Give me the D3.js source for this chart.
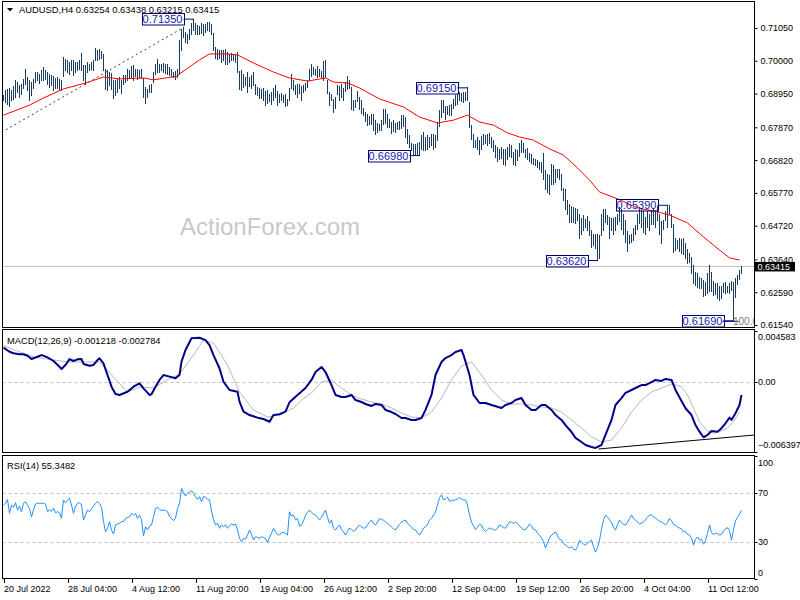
<!DOCTYPE html>
<html><head><meta charset="utf-8">
<script src="https://cdn.jsdelivr.net/npm/d3@7"></script>
<style>body{margin:0;background:#fff}svg{display:block}text{font-family:"Liberation Sans",Arial,sans-serif}</style>
</head><body><svg id="c" width="800" height="600"></svg>
<script>
const headerText = "AUDUSD,H4 0.63254 0.63438 0.63215 0.63415";
const lastClose = 0.63415;
const highs = [
0.6890,0.6906,0.6911,0.6914,0.6908,0.6919,0.6938,0.6933,0.6922,0.6927,
0.6943,0.6975,0.6949,0.6938,0.6933,0.6943,0.6965,0.6965,0.6959,0.6970,
0.6981,0.6970,0.6965,0.6959,0.6954,0.6951,0.6946,0.6949,0.6943,0.6940,
0.7013,0.7007,0.7002,0.6997,0.7004,0.7002,0.6997,0.6997,0.7002,0.7025,
0.6986,0.6986,0.6997,0.6991,0.6997,0.7004,0.7042,0.7034,0.7039,0.7032,
0.7023,0.6975,0.6970,0.6965,0.6961,0.6938,0.6938,0.6943,0.6949,0.6938,
0.6954,0.6954,0.6975,0.6970,0.6983,0.6986,0.6975,0.6975,0.6970,0.6975,
0.6946,0.6917,0.6911,0.6922,0.6927,0.6965,0.6991,0.7007,0.6991,0.6991,
0.6993,0.6991,0.6989,0.6981,0.6975,0.6965,0.6968,0.6975,0.7066,0.7103,
0.7109,0.7093,0.7087,0.7103,0.7121,0.7135,0.7121,0.7114,0.7111,0.7121,
0.7119,0.7117,0.7125,0.7124,0.7117,0.7089,0.7045,0.7039,0.7034,0.7036,
0.7034,0.7039,0.7029,0.7023,0.7025,0.7023,0.7023,0.7029,0.6968,0.6970,
0.6959,0.6949,0.6965,0.6949,0.6954,0.6965,0.6927,0.6917,0.6914,0.6911,
0.6914,0.6904,0.6906,0.6895,0.6901,0.6914,0.6922,0.6904,0.6893,0.6897,
0.6890,0.6895,0.6879,0.6914,0.6959,0.6938,0.6922,0.6925,0.6927,0.6919,
0.6922,0.6929,0.6940,0.6975,0.6989,0.6981,0.6975,0.6983,0.6975,0.6968,
0.7000,0.7004,0.6940,0.6901,0.6895,0.6879,0.6885,0.6922,0.6919,0.6927,
0.6914,0.6933,0.6951,0.6938,0.6917,0.6874,0.6876,0.6904,0.6885,0.6874,
0.6850,0.6837,0.6831,0.6823,0.6831,0.6829,0.6810,0.6801,0.6797,0.6810,
0.6847,0.6847,0.6831,0.6815,0.6805,0.6810,0.6801,0.6805,0.6808,0.6826,
0.6826,0.6821,0.6783,0.6762,0.6737,0.6733,0.6735,0.6737,0.6739,0.6762,
0.6773,0.6757,0.6762,0.6757,0.6767,0.6767,0.6762,0.6805,0.6842,0.6874,
0.6874,0.6855,0.6855,0.6858,0.6861,0.6879,0.6890,0.6895,0.6901,0.6897,
0.6901,0.6901,0.6915,0.6869,0.6794,0.6767,0.6748,0.6757,0.6746,0.6759,
0.6765,0.6762,0.6767,0.6769,0.6757,0.6748,0.6730,0.6725,0.6719,0.6725,
0.6716,0.6719,0.6725,0.6732,0.6730,0.6709,0.6719,0.6714,0.6737,0.6746,
0.6737,0.6719,0.6722,0.6705,0.6700,0.6690,0.6684,0.6682,0.6676,0.6676,
0.6705,0.6650,0.6639,0.6634,0.6669,0.6666,0.6655,0.6652,0.6654,0.6639,
0.6594,0.6588,0.6554,0.6541,0.6535,0.6533,0.6530,0.6524,0.6511,0.6498,
0.6506,0.6495,0.6503,0.6488,0.6458,0.6447,0.6447,0.6445,0.6442,0.6511,
0.6527,0.6527,0.6506,0.6501,0.6498,0.6498,0.6501,0.6511,0.6533,0.6527,
0.6511,0.6490,0.6456,0.6442,0.6447,0.6466,0.6474,0.6511,0.6527,0.6524,
0.6520,0.6501,0.6520,0.6511,0.6522,0.6530,0.6522,0.6535,0.6511,0.6488,
0.6490,0.6520,0.6539,0.6537,0.6511,0.6479,0.6434,0.6426,0.6431,0.6428,
0.6431,0.6415,0.6396,0.6385,0.6372,0.6346,0.6324,0.6319,0.6308,0.6306,
0.6298,0.6292,0.6319,0.6346,0.6324,0.6296,0.6287,0.6289,0.6279,0.6279,
0.6289,0.6292,0.6279,0.6289,0.6296,0.6292,0.6306,0.6314,0.6330,0.6344];
const lows = [
0.6874,0.6869,0.6863,0.6855,0.6874,0.6879,0.6885,0.6901,0.6885,0.6895,
0.6914,0.6927,0.6906,0.6876,0.6890,0.6914,0.6933,0.6938,0.6929,0.6938,
0.6938,0.6943,0.6927,0.6917,0.6922,0.6908,0.6914,0.6914,0.6906,0.6906,
0.6951,0.6972,0.6965,0.6959,0.6970,0.6954,0.6965,0.6970,0.6975,0.6970,
0.6938,0.6927,0.6965,0.6970,0.6975,0.6972,0.7002,0.7004,0.7007,0.7010,
0.6970,0.6911,0.6908,0.6922,0.6911,0.6882,0.6892,0.6901,0.6914,0.6897,
0.6927,0.6933,0.6938,0.6949,0.6949,0.6938,0.6951,0.6943,0.6949,0.6946,
0.6885,0.6865,0.6885,0.6901,0.6901,0.6933,0.6959,0.6965,0.6965,0.6970,
0.6965,0.6961,0.6959,0.6954,0.6951,0.6949,0.6943,0.6949,0.6959,0.7034,
0.7077,0.7061,0.7057,0.7071,0.7087,0.7098,0.7087,0.7087,0.7085,0.7089,
0.7082,0.7092,0.7098,0.7096,0.7085,0.7034,0.7010,0.7007,0.7010,0.6997,
0.7002,0.6989,0.6991,0.6997,0.7004,0.7002,0.6997,0.6965,0.6911,0.6908,
0.6917,0.6922,0.6901,0.6919,0.6914,0.6922,0.6895,0.6890,0.6882,0.6882,
0.6874,0.6858,0.6865,0.6872,0.6863,0.6874,0.6885,0.6858,0.6867,0.6874,
0.6869,0.6855,0.6858,0.6874,0.6914,0.6908,0.6895,0.6885,0.6897,0.6876,
0.6901,0.6906,0.6917,0.6938,0.6951,0.6957,0.6954,0.6949,0.6951,0.6946,
0.6938,0.6949,0.6897,0.6858,0.6874,0.6837,0.6850,0.6893,0.6874,0.6885,
0.6874,0.6904,0.6911,0.6914,0.6847,0.6842,0.6853,0.6872,0.6847,0.6833,
0.6826,0.6808,0.6794,0.6797,0.6797,0.6778,0.6767,0.6773,0.6778,0.6778,
0.6799,0.6801,0.6789,0.6789,0.6769,0.6776,0.6773,0.6783,0.6783,0.6786,
0.6791,0.6757,0.6737,0.6725,0.6714,0.6698,0.6701,0.6703,0.6698,0.6719,
0.6714,0.6714,0.6719,0.6725,0.6730,0.6716,0.6725,0.6748,0.6791,0.6821,
0.6837,0.6815,0.6831,0.6826,0.6826,0.6850,0.6858,0.6863,0.6874,0.6872,
0.6869,0.6876,0.6874,0.6789,0.6751,0.6725,0.6725,0.6716,0.6703,0.6719,
0.6735,0.6737,0.6730,0.6737,0.6725,0.6712,0.6693,0.6680,0.6687,0.6690,
0.6671,0.6666,0.6684,0.6695,0.6693,0.6671,0.6666,0.6682,0.6695,0.6709,
0.6709,0.6693,0.6686,0.6680,0.6674,0.6671,0.6666,0.6661,0.6655,0.6644,
0.6623,0.6591,0.6580,0.6573,0.6607,0.6607,0.6613,0.6628,0.6623,0.6586,
0.6554,0.6527,0.6509,0.6484,0.6483,0.6484,0.6481,0.6490,0.6434,0.6445,
0.6458,0.6468,0.6458,0.6442,0.6404,0.6410,0.6399,0.6362,0.6367,0.6442,
0.6458,0.6484,0.6477,0.6434,0.6458,0.6447,0.6458,0.6479,0.6488,0.6460,
0.6447,0.6420,0.6392,0.6415,0.6419,0.6426,0.6447,0.6463,0.6481,0.6468,
0.6452,0.6447,0.6468,0.6458,0.6477,0.6479,0.6468,0.6490,0.6447,0.6415,
0.6460,0.6490,0.6468,0.6509,0.6468,0.6388,0.6394,0.6402,0.6392,0.6385,
0.6381,0.6367,0.6351,0.6356,0.6319,0.6287,0.6282,0.6276,0.6274,0.6271,
0.6246,0.6250,0.6257,0.6264,0.6264,0.6250,0.6253,0.6239,0.6234,0.6242,
0.6260,0.6255,0.6259,0.6255,0.6266,0.6169,0.6244,0.6285,0.6300,0.6322];
const maBar = [0,13,20,30,41,50,58,70,75,87,88,98,103,112,117,125,135,143,152,161,165,172,178,188,200,208,217,225,232,238,245,252,258,265,273,280,287,293,298,307,317,327,333,342,350,358,363,368];
const maVal = [0.6826,0.6858,0.6881,0.6910,0.6929,0.6948,0.6942,0.6945,0.6939,0.6951,0.6958,0.7003,0.7022,0.7022,0.7019,0.6993,0.6964,0.6945,0.6935,0.6945,0.6932,0.6929,0.6913,0.6878,0.6852,0.6820,0.6801,0.6810,0.6826,0.6804,0.6794,0.6769,0.6756,0.6746,0.6718,0.6698,0.6657,0.6618,0.6580,0.6558,0.6529,0.6516,0.6506,0.6481,0.6436,0.6394,0.6369,0.6362];
const macdBar = [0,3,5,8,10,12,14,17,19,22,25,28,29,31,33,35,37,39,40,43,45,47,48,50,52,54,56,58,62,65,68,70,73,74,76,78,80,83,86,88,89,91,94,98,101,103,105,108,110,113,117,118,120,123,127,130,133,135,138,141,143,146,148,151,154,156,159,161,164,166,169,171,174,176,179,181,184,186,189,191,194,196,199,201,204,206,209,211,214,216,219,221,224,226,229,230,233,235,238,241,244,249,251,254,256,259,261,264,266,269,271,274,276,279,281,284,286,289,291,294,296,299,301,304,306,309,311,314,316,319,321,324,326,329,331,334,336,339,341,344,346,348,350,352,354,357,359,361,363,364,366,368,369];
const macdVal = [0.00307,0.00270,0.00256,0.00247,0.00247,0.00234,0.00204,0.00225,0.00240,0.00219,0.00186,0.00134,0.00113,0.00150,0.00204,0.00186,0.00201,0.00204,0.00159,0.00143,0.00150,0.00195,0.00210,0.00165,0.00059,-0.00047,-0.00113,-0.00122,-0.00093,-0.00047,-0.00016,-0.00062,-0.00122,-0.00116,-0.00047,0.00014,0.00059,0.00044,0.00029,0.00059,0.00180,0.00286,0.00392,0.00397,0.00376,0.00331,0.00240,0.00120,-0.00002,-0.00077,-0.00093,-0.00183,-0.00274,-0.00304,-0.00328,-0.00340,-0.00365,-0.00304,-0.00297,-0.00274,-0.00189,-0.00138,-0.00107,-0.00059,0.00014,0.00086,0.00132,0.00086,-0.00032,-0.00122,-0.00141,-0.00141,-0.00122,-0.00168,-0.00186,-0.00204,-0.00222,-0.00204,-0.00213,-0.00258,-0.00277,-0.00295,-0.00331,-0.00331,-0.00349,-0.00349,-0.00331,-0.00258,-0.00122,0.00059,0.00177,0.00213,0.00240,0.00268,0.00286,0.00240,0.00059,-0.00122,-0.00195,-0.00195,-0.00213,-0.00240,-0.00213,-0.00195,-0.00168,-0.00150,-0.00213,-0.00258,-0.00258,-0.00213,-0.00213,-0.00258,-0.00304,-0.00349,-0.00395,-0.00458,-0.00512,-0.00549,-0.00576,-0.00594,-0.00603,-0.00576,-0.00485,-0.00349,-0.00213,-0.00150,-0.00104,-0.00077,-0.00059,-0.00032,-0.00032,-0.00005,0.00014,0.00005,0.00023,0.00014,-0.00077,-0.00177,-0.00243,-0.00304,-0.00395,-0.00455,-0.00506,-0.00485,-0.00449,-0.00455,-0.00424,-0.00379,-0.00328,-0.00349,-0.00288,-0.00213,-0.00122];
const sigBar = [0,15,32,48,55,62,68,75,82,88,95,100,105,112,118,125,132,138,145,149,154,159,164,169,174,179,184,189,194,199,204,209,214,219,224,229,234,239,244,249,254,259,264,269,274,279,284,289,294,299,304,309,314,319,324,329,334,339,342,345,348,352,355,358,362,365,368];
const sigVal = [0.00325,0.00222,0.00177,0.00177,0.00041,-0.00095,-0.00050,-0.00059,0.00014,0.00068,0.00240,0.00376,0.00349,0.00150,-0.00095,-0.00258,-0.00322,-0.00304,-0.00240,-0.00168,-0.00104,-0.00005,0.00014,-0.00059,-0.00122,-0.00159,-0.00186,-0.00204,-0.00240,-0.00286,-0.00322,-0.00331,-0.00277,-0.00150,0.00014,0.00141,0.00177,0.00059,-0.00077,-0.00168,-0.00204,-0.00204,-0.00213,-0.00231,-0.00240,-0.00277,-0.00349,-0.00422,-0.00503,-0.00549,-0.00531,-0.00422,-0.00277,-0.00168,-0.00095,-0.00059,-0.00023,-0.00047,-0.00122,-0.00240,-0.00367,-0.00449,-0.00470,-0.00455,-0.00422,-0.00365,-0.00278];
const rsiVal = [
60,61.4,64.6,53.2,60,58.1,61.9,55.9,59.2,54.5,
61.4,62.7,60,57.3,50.4,55.9,60.8,61.4,61.4,61.4,
61.4,60.8,54.5,55.9,54.9,57.3,53.7,54.5,53.7,49.1,
64.1,61.9,64.1,65.5,60,53.2,58.6,61.4,61.9,60,
47.8,51.8,55.9,54.5,56.5,59,61.4,62.7,61.4,58,
46.4,38.2,41,46.4,39.6,36.3,43.7,44.5,45.1,46.4,
46.4,49.1,49.8,50.4,53.2,51.8,53.2,49.1,51.8,48,
34.7,42.3,39.6,42.8,43.7,50,57.3,58.1,56.5,55.6,
55.9,55.5,54.5,50.5,49.1,47.2,49.1,57.3,61.4,73.6,
70,67.3,69.6,70.5,71.7,69.6,66.8,64.6,66.8,62.7,
66.8,66.3,64.6,64.1,55,48,43.7,45.1,41,43.7,
42.3,43.9,41,43,44.5,43.7,44.5,39.6,32.8,30,
32.8,32,35.5,39.6,36,31.4,34.1,33.6,32.8,34.1,
33.5,32.8,29.2,33.6,37,41,38,36.1,35.5,37.5,
37.5,36.9,35.5,54.5,51,51.8,47.8,49.1,42.8,43.7,
47,51.8,54,55.9,54,52.5,51.8,50,47.8,50,
53,55.9,50,45,47.8,41,39.6,42,43.7,40,
38,35.5,38.5,41.2,40,38.5,39.6,42,43.7,42,
41.2,41.2,44,46.1,47.8,45,43.7,46,49,48,
47.8,46,45,43.7,42,40.5,39.6,42,44.5,46,
47,47.8,45,43.7,42,40,39.6,37,35.5,38,
41.2,42,44,47.8,49,52,54.3,60,66,68.2,
64.1,65,66.5,63,63.5,64.1,64.1,65,66,65,
64.1,64.1,60,52,46,43,40,42,44,43.7,
40,38.5,40,41.2,40.5,40,39.6,41,43.7,43,
41.2,41.2,43.7,46.1,46,45,46.1,45,43,41.2,
40,39.6,42,44.5,43,40,39.6,37,35.5,33,
30,25,29,33,35.5,36.5,38,35,32,31.4,
28.5,27.3,26,25,26,24,23.3,26,31,30,
28,27.3,29,30,31.4,26,21.6,25,31.4,40,
47.8,51.8,50,47.8,46,42,39.6,44,47.8,46,
44,43.7,46,49,51.8,49,47.8,46,44.5,45,
46.5,47.8,50,51.8,51.8,50.5,49.4,48,46.8,46.1,
45,43.7,45.5,49,47,44,43.7,42,41.2,40.5,
38,38.5,36,35.5,33,27.3,32,33.9,31.4,32,
28,31,37,43.7,37.5,36,37,36.5,35.5,35.8,
39,40.5,41.5,39,31.4,40,47,50,52.5,55.35];
const priceTicks = [0.71050,0.70000,0.68950,0.67870,0.66820,0.65770,0.64720,0.63640,0.62590,0.61540];
const timeBar = [0,32,64,96,128,160,192,224,256,288,320,352];
const timeLabel = ["20 Jul 2022","28 Jul 04:00","4 Aug 12:00","11 Aug 20:00","19 Aug 04:00","26 Aug 12:00","2 Sep 20:00","12 Sep 04:00","19 Sep 12:00","26 Sep 20:00","4 Oct 04:00","11 Oct 12:00"];
const annBar = [95,232,208,297,332,365];
const annPrice = [0.7135,0.6915,0.6698,0.6362,0.6539,0.6169];
const annText = ["0.71350","0.69150","0.66980","0.63620","0.65390","0.61690"];
const trendBar = [0,89];
const trendPrice = [0.6771,0.7103];
const macdTrendBar = [297.5,375.5];
const macdTrendVal = [-0.006125,-0.004854];
const macdMax = 0.004583, macdMin = -0.006397;
const macdHeader = "MACD(12,26,9) -0.001218 -0.002784";
const rsiHeader = "RSI(14) 55.3482";
const rsiLevels = [70,30];
const rsiLabels = [100,70,30,0];

const svg = d3.select("#c");
const L = 2.5, R = 754.5;
const P = {main:[1.5,327.5], macd:[329.5,452.5], rsi:[455.5,578.5]};
const x = d3.scaleLinear().domain([0,369]).range([3.5,741.5]);
const yP = d3.scaleLinear().domain([0.61476,0.71883]).range([327,2]);
const yM = d3.scaleLinear().domain([macdMin,macdMax]).range([452,331]);
const yR = d3.scaleLinear().domain([0,100]).range([578.5,456]);
const defs = svg.append("defs");
Object.entries(P).forEach(([k,v])=>{
  defs.append("clipPath").attr("id","clip-"+k).append("rect").attr("x",L).attr("y",v[0]).attr("width",R-L).attr("height",v[1]-v[0]);
});
const gMain = svg.append("g").attr("clip-path","url(#clip-main)");
const gMacd = svg.append("g").attr("clip-path","url(#clip-macd)");
const gRsi = svg.append("g").attr("clip-path","url(#clip-rsi)");

gMain.append("text").attr("x",180).attr("y",235).attr("font-size",24).attr("fill","#c8c8c8").text("ActionForex.com");
gMain.append("line").attr("x1",L).attr("x2",R).attr("y1",Math.round(yP(lastClose))+0.5).attr("y2",Math.round(yP(lastClose))+0.5).attr("stroke","#c0c0c0");
gMain.append("line").attr("x1",x(trendBar[0])-2).attr("y1",yP(trendPrice[0])).attr("x2",x(trendBar[1])).attr("y2",yP(trendPrice[1]))
  .attr("stroke","#404040").attr("stroke-dasharray","2,3");
gMain.append("g").selectAll("line").data(highs).join("line")
  .attr("x1",(d,i)=>x(i)).attr("x2",(d,i)=>x(i))
  .attr("y1",d=>Math.round(yP(d))).attr("y2",(d,i)=>Math.round(yP(lows[i]))+1)
  .attr("stroke","#1a3d5e").attr("stroke-width",1).attr("shape-rendering","crispEdges");
gMain.append("path").datum(d3.zip(maBar,maVal)).attr("fill","none").attr("stroke","#ff0000").attr("stroke-width",1)
  .attr("d",d3.line().x(d=>x(d[0])).y(d=>yP(d[1])));
annBar.forEach((b,k)=>{
  const bx = x(b), by = yP(annPrice[k]) + 0.5;
  const g = gMain.append("g");
  g.append("line").attr("x1",bx-10).attr("x2",bx+0.5).attr("y1",by).attr("y2",by).attr("stroke","#000080");
  g.append("rect").attr("x",Math.round(bx-52)+0.5).attr("y",Math.round(by-6)+0.5).attr("width",42).attr("height",11.5)
    .attr("fill","none").attr("stroke","#000080");
  g.append("text").attr("x",bx-31).attr("y",by+4).attr("text-anchor","middle").attr("font-size",11).attr("fill","#1a1aa6").text(annText[k]);
});
gMain.append("line").attr("x1",x(365)-11).attr("x2",x(365)+5).attr("y1",yP(0.6169)+1).attr("y2",yP(0.6169)+1).attr("stroke","#000080");
gMain.append("text").attr("x",733).attr("y",325).attr("font-size",10).attr("fill","#808080").text("100.0");

gMacd.append("line").attr("x1",L).attr("x2",R).attr("y1",Math.round(yM(0))+0.5).attr("y2",Math.round(yM(0))+0.5).attr("stroke","#c0c0c0").attr("stroke-dasharray","3,3");
gMacd.append("path").datum(d3.zip(sigBar,sigVal)).attr("fill","none").attr("stroke","#b8b8b8").attr("stroke-width",1)
  .attr("d",d3.line().x(d=>x(d[0])).y(d=>yM(d[1])));
gMacd.append("path").datum(d3.zip(macdBar,macdVal)).attr("fill","none").attr("stroke","#000088").attr("stroke-width",2).attr("stroke-linejoin","round")
  .attr("d",d3.line().x(d=>x(d[0])).y(d=>yM(d[1])));
gMacd.append("line").attr("x1",x(macdTrendBar[0])).attr("y1",yM(macdTrendVal[0])).attr("x2",x(macdTrendBar[1])).attr("y2",yM(macdTrendVal[1])).attr("stroke","#000").attr("stroke-width",1);

rsiLevels.forEach(v=>{
  gRsi.append("line").attr("x1",L).attr("x2",R).attr("y1",Math.round(yR(v))+0.5).attr("y2",Math.round(yR(v))+0.5).attr("stroke","#c0c0c0").attr("stroke-dasharray","3,3");
});
gRsi.append("path").datum(rsiVal).attr("fill","none").attr("stroke","#1e90ff").attr("stroke-width",1)
  .attr("d",d3.line().x((d,i)=>x(i)).y(d=>yR(d)));

Object.values(P).forEach(v=>{
  svg.append("rect").attr("x",L).attr("y",v[0]).attr("width",R-L).attr("height",v[1]-v[0]).attr("fill","none").attr("stroke","#000");
});

const ax = svg.append("g").attr("transform",`translate(${R},0)`)
  .call(d3.axisRight(yP).tickValues(priceTicks).tickSize(3).tickFormat(d3.format(".5f")));
ax.select(".domain").remove();
ax.selectAll("text").attr("font-size",9).attr("font-family","Liberation Sans, Arial, sans-serif").attr("fill","#000");
ax.selectAll("line").attr("stroke","#000");
const cy = yP(lastClose);
svg.append("rect").attr("x",755).attr("y",cy-4.5).attr("width",40).attr("height",9.5).attr("fill","#000");
svg.append("text").attr("x",757.5).attr("y",cy+3.5).attr("font-size",9).attr("fill","#fff").text(d3.format(".5f")(lastClose));

const macdLab = [[macdMax, d3.format(".6f")(macdMax), 6],[0,"0.00",0],[macdMin, d3.format(".6f")(macdMin), -7]];
macdLab.forEach(([v,t,off])=>{
  svg.append("line").attr("x1",R).attr("x2",R+3).attr("y1",Math.round(yM(v))+0.5).attr("y2",Math.round(yM(v))+0.5).attr("stroke","#000");
  svg.append("text").attr("x",758).attr("y",yM(v)+off+3.2).attr("font-size",9).attr("fill","#000").text(t);
});
rsiLabels.forEach(v=>{
  const off = v===100 ? 7 : (v===0 ? -6 : 0);
  svg.append("line").attr("x1",R).attr("x2",R+3).attr("y1",Math.round(yR(v))+0.5).attr("y2",Math.round(yR(v))+0.5).attr("stroke","#000");
  svg.append("text").attr("x",758).attr("y",yR(v)+off+3.2).attr("font-size",9).attr("fill","#000").text(v);
});
timeBar.forEach((b,k)=>{
  const tx = Math.round(x(b))+0.5;
  svg.append("line").attr("x1",tx).attr("x2",tx).attr("y1",579).attr("y2",583).attr("stroke","#000");
  svg.append("text").attr("x",tx-0.5).attr("y",592).attr("font-size",9).attr("fill","#000").text(timeLabel[k]);
});

svg.append("path").attr("d","M7,8 L13,8 L10,11.5 Z").attr("fill","#000");
svg.append("text").attr("x",19).attr("y",13).attr("font-size",9.4).attr("fill","#000").text(headerText);
svg.append("text").attr("x",7).attr("y",343.5).attr("font-size",9.3).attr("fill","#000").text(macdHeader);
svg.append("text").attr("x",7).attr("y",468.5).attr("font-size",9.3).attr("fill","#000").text(rsiHeader);
</script></body></html>
